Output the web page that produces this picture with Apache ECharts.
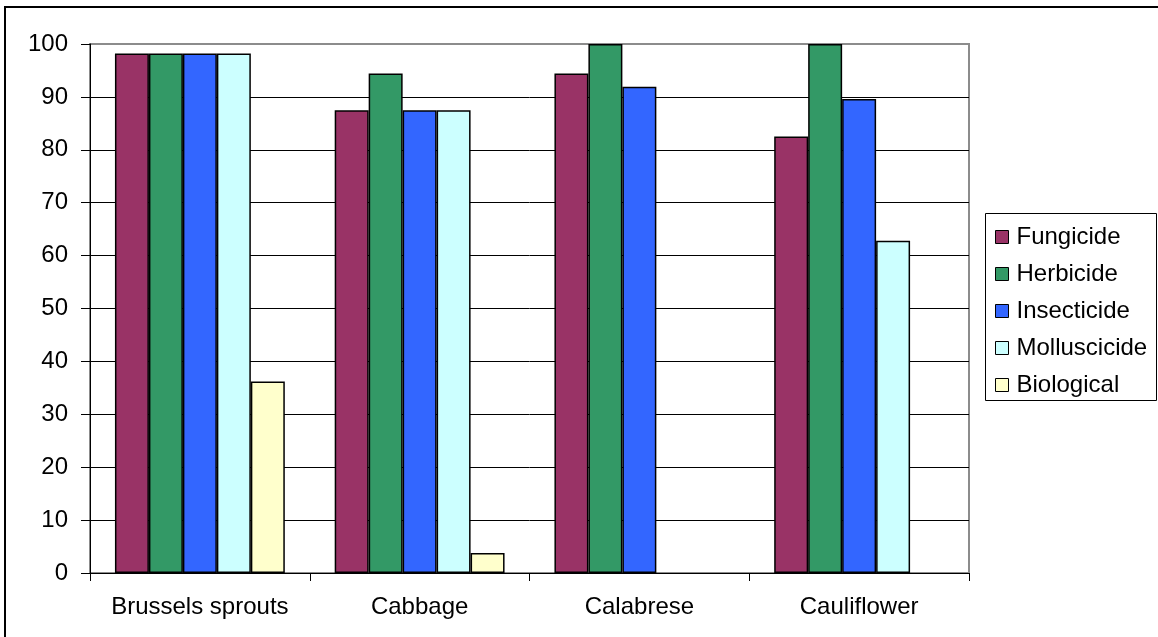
<!DOCTYPE html>
<html>
<head>
<meta charset="utf-8">
<title>Crop protection by product group</title>
<script src="https://cdn.jsdelivr.net/npm/echarts@6/dist/echarts.min.js"></script>
<style>
  html, body { margin: 0; padding: 0; background: #fff; }
  #chart { width: 1158px; height: 637px; }
</style>
</head>
<body>
<div id="chart"></div>
<script>
// Crops along the category axis
const crops = ['Brussels sprouts', 'Cabbage', 'Calabrese', 'Cauliflower'];

// Percentage values per product group (null = no bar)
const fungicide    = [98.2, 87.5, 94.4, 82.5];
const herbicide    = [98.2, 94.4, 100, 100];
const insecticide  = [98.2, 87.5, 91.9, 89.6];
const molluscicide = [98.2, 87.5, null, 62.8];
const biological   = [36.2, 3.8, null, null];

const seriesNames = ['Fungicide', 'Herbicide', 'Insecticide', 'Molluscicide', 'Biological'];
const seriesColors = ['#993366', '#339966', '#3366FF', '#CCFFFF', '#FFFFCC'];
const seriesData = [fungicide, herbicide, insecticide, molluscicide, biological];

// Value axis ticks
const yMin = 0, yMax = 100, yStep = 10;

const FONT = '"Liberation Sans", Arial, sans-serif';

// grid lines: black everywhere except the top edge of the plot
const splitColors = [];
for (let v = yMin; v <= yMax; v += yStep) splitColors.push(v === yMax ? '#8c8c8c' : '#000000');

const chart = echarts.init(document.getElementById('chart'), null, { renderer: 'canvas' });

chart.setOption({
  backgroundColor: '#ffffff',
  animation: false,
  textStyle: { fontFamily: FONT, color: '#000' },
  grid: {
    left: 90, right: 189, top: 44, bottom: 64,
    show: true, borderColor: '#8c8c8c', borderWidth: 2, backgroundColor: '#ffffff'
  },
  legend: {
    orient: 'vertical',
    left: 995, top: 225,
    padding: 0,
    itemGap: 13,
    itemWidth: 13, itemHeight: 13,
    icon: 'rect',
    itemStyle: { borderColor: '#000', borderWidth: 1 },
    textStyle: { fontFamily: FONT, fontSize: 24, color: '#000', lineHeight: 24, padding: [0, 0, 0, 3] },
    data: seriesNames
  },
  xAxis: {
    type: 'category',
    data: crops,
    axisLine: { show: true, lineStyle: { color: '#000', width: 1 } },
    axisTick: { show: true, alignWithLabel: false, length: 8, lineStyle: { color: '#000' } },
    axisLabel: { interval: 0, fontFamily: FONT, fontSize: 24, color: '#000', margin: 22 },
    splitLine: { show: false }
  },
  yAxis: {
    type: 'value',
    min: yMin, max: yMax, interval: yStep,
    axisLine: { show: true, lineStyle: { color: '#000', width: 1 } },
    axisTick: { show: true, inside: false, length: 9, lineStyle: { color: '#000' } },
    axisLabel: { fontFamily: FONT, fontSize: 24, color: '#000', margin: 22 },
    splitLine: { show: true, lineStyle: { color: splitColors, width: 1 } }
  },
  series: seriesNames.map((name, i) => ({
    name: name,
    type: 'bar',
    data: seriesData[i],
    barGap: '0%',
    barCategoryGap: '22.7%',
    itemStyle: { color: seriesColors[i], borderColor: '#000', borderWidth: 1.5 },
    emphasis: { disabled: true }
  })),
  graphic: [
    {
      // legend frame
      type: 'rect',
      shape: { x: 985.5, y: 213.5, width: 171, height: 187 },
      style: { fill: null, stroke: '#000', lineWidth: 1 },
      z: 100
    },
    {
      // chart frame
      type: 'rect',
      shape: { x: 5, y: 7, width: 1300, height: 800 },
      style: { fill: null, stroke: '#000', lineWidth: 2 },
      z: 100
    }
  ]
});
</script>
</body>
</html>
